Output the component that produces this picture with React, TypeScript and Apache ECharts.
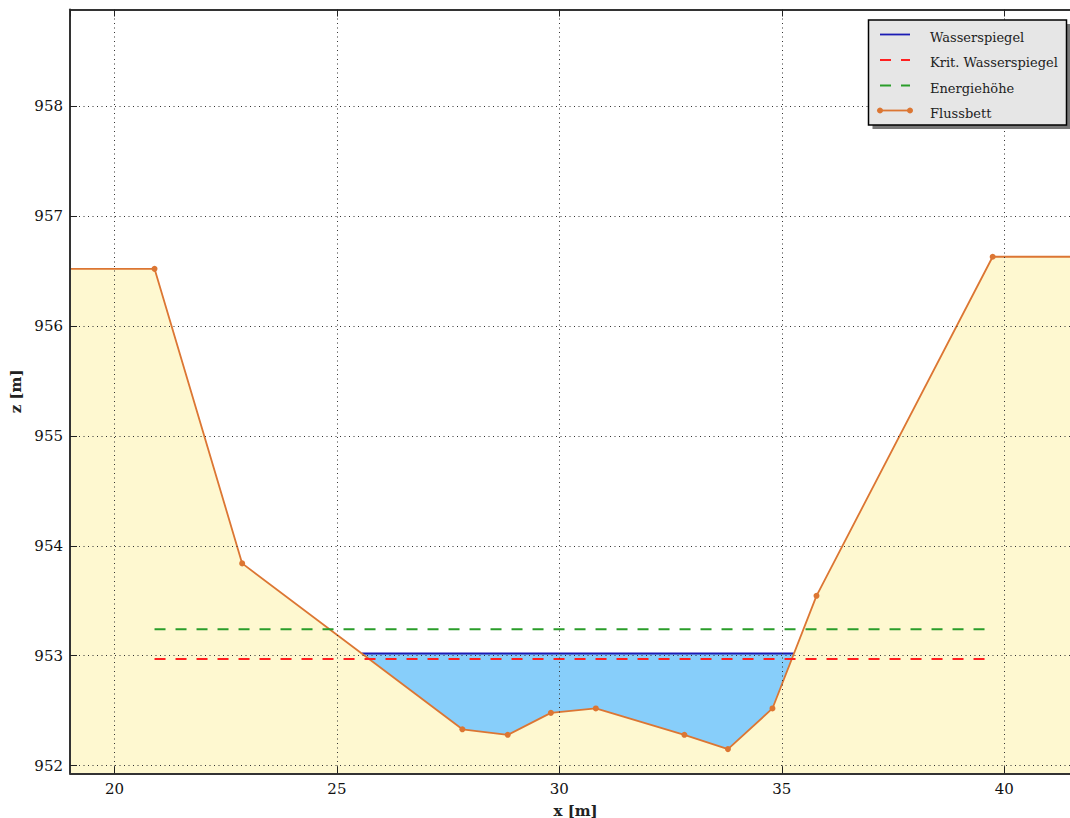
import React, { useEffect, useRef } from "react";
import * as echarts from "echarts";

// Flussbett (river bed) profile: x [m], z [m]
const bedX = [15, 20.9, 22.87, 27.82, 28.84, 29.81, 30.82, 32.81, 33.79, 34.79, 35.78, 39.74, 45];
const bedZ = [956.52, 956.52, 953.84, 952.33, 952.28, 952.48, 952.52, 952.28, 952.15, 952.52, 953.545, 956.63, 956.63];

// Wasserspiegel (water surface) endpoints
const waterX = [25.56, 35.27];
const waterZ = 953.02;

// Horizontal levels
const levelX = [20.9, 39.74];
const kritZ = 952.97;
const energyZ = 953.24;

const legendLabels = ["Wasserspiegel", "Krit. Wasserspiegel", "Energiehöhe", "Flussbett"];

const FONT = "DejaVu Serif";
const BED_COLOR = "#dc7633";

export default function App() {
  const ref = useRef<HTMLDivElement>(null);

  useEffect(() => {
    if (!ref.current) return;
    const chart = echarts.init(ref.current, undefined, { renderer: "svg" });

    const bedData = bedX.map((x, i) => [x, bedZ[i]]);
    const waterData = waterX.map((x) => [x, waterZ]);
    const kritData = levelX.map((x) => [x, kritZ]);
    const energyData = levelX.map((x) => [x, energyZ]);

    const axisLineStyle = { color: "#333", width: 2 };
    const gridLine = { show: true, lineStyle: { color: "#333", type: [1, 3.5] as any, width: 1 } };
    const labelStyle = { fontFamily: FONT, fontSize: 15, color: "#111" };

    const lx = 880, tx = 930;
    const rowsY = [34.5, 60, 85.5, 110.5];

    const legendElements: any[] = [
      { type: "rect", shape: { x: 872.5, y: 24, width: 200, height: 105 }, style: { fill: "#777" }, z: 100 },
      { type: "rect", shape: { x: 868.5, y: 20, width: 198, height: 105 }, style: { fill: "#e6e6e6", stroke: "#000", lineWidth: 1.5 }, z: 101 },
      { type: "line", shape: { x1: lx, y1: rowsY[0], x2: lx + 30, y2: rowsY[0] }, style: { stroke: "#1c1cb4", lineWidth: 1.8 }, z: 102 },
      { type: "line", shape: { x1: lx, y1: rowsY[1], x2: lx + 30, y2: rowsY[1] }, style: { stroke: "#ff2020", lineWidth: 2, lineDash: [11, 10] }, z: 102 },
      { type: "line", shape: { x1: lx, y1: rowsY[2], x2: lx + 30, y2: rowsY[2] }, style: { stroke: "#2a9d2a", lineWidth: 2, lineDash: [11, 10] }, z: 102 },
      { type: "line", shape: { x1: lx, y1: rowsY[3], x2: lx + 30, y2: rowsY[3] }, style: { stroke: BED_COLOR, lineWidth: 1.8 }, z: 102 },
      { type: "circle", shape: { cx: lx, cy: rowsY[3], r: 3 }, style: { fill: BED_COLOR }, z: 103 },
      { type: "circle", shape: { cx: lx + 30, cy: rowsY[3], r: 3 }, style: { fill: BED_COLOR }, z: 103 },
      ...legendLabels.map((t, i) => ({
        type: "text",
        x: tx,
        y: rowsY[i] + 2.5,
        style: { text: t, fill: "#222", font: `13px "${FONT}"`, textVerticalAlign: "middle", textAlign: "left" },
        z: 103,
      })),
    ];

    const nameStyle = { fontFamily: FONT, fontWeight: "bold", fontSize: 15, color: "#222" };

    chart.setOption({
      animation: false,
      grid: { left: 70, top: 9.5, width: 1023.2, height: 763.8, containLabel: false, outerBoundsMode: "none" },
      xAxis: [
        {
          type: "value",
          min: 19,
          max: 42,
          minInterval: 5,
          maxInterval: 5,
          z: 5,
          position: "bottom",
          name: "x [m]",
          nameLocation: "middle",
          nameGap: 30,
          nameTextStyle: { ...nameStyle, padding: [0, 12, 0, 0] },
          axisLine: { show: true, onZero: false, lineStyle: axisLineStyle },
          axisTick: { show: true, inside: true, length: 7, lineStyle: { color: "#222", width: 1 } },
          axisLabel: { ...labelStyle, margin: 8, showMinLabel: false, showMaxLabel: false },
          splitLine: gridLine,
        },
        {
          type: "value",
          min: 19,
          max: 42,
          minInterval: 5,
          maxInterval: 5,
          z: 5,
          position: "top",
          axisLine: { show: true, onZero: false, lineStyle: axisLineStyle },
          axisTick: { show: true, inside: true, length: 7, lineStyle: { color: "#222", width: 1 } },
          axisLabel: { show: false },
          splitLine: { show: false },
        },
      ],
      yAxis: {
        type: "value",
        min: 951.93,
        max: 958.88,
        minInterval: 1,
        maxInterval: 1,
        z: 5,
        name: "z [m]",
        nameLocation: "middle",
        nameGap: 42,
        nameTextStyle: nameStyle,
        axisLine: { show: true, onZero: false, lineStyle: axisLineStyle },
        axisTick: { show: true, inside: true, length: 7, lineStyle: { color: "#222", width: 1 } },
        axisLabel: { ...labelStyle, margin: 7, showMinLabel: false, showMaxLabel: false },
        splitLine: gridLine,
      },
      series: [
        {
          name: "Wasserspiegel",
          type: "line",
          data: waterData,
          z: 1,
          symbol: "none",
          lineStyle: { color: "#1c1cb4", width: 1.8 },
          areaStyle: { color: "#87cefa", opacity: 1, origin: "start" },
          clip: true,
        },
        {
          name: "Flussbett",
          type: "line",
          data: bedData,
          z: 2,
          symbol: "circle",
          symbolSize: 6,
          showSymbol: true,
          lineStyle: { color: BED_COLOR, width: 1.8 },
          itemStyle: { color: BED_COLOR },
          areaStyle: { color: "#fef8d0", opacity: 1, origin: "start" },
          clip: true,
        },
        {
          name: "Krit. Wasserspiegel",
          type: "line",
          data: kritData,
          z: 3,
          symbol: "none",
          lineStyle: { color: "#ff2020", width: 2, type: [11, 10] },
        },
        {
          name: "Energiehöhe",
          type: "line",
          data: energyData,
          z: 3,
          symbol: "none",
          lineStyle: { color: "#2a9d2a", width: 2, type: [11, 10] },
        },
      ],
      graphic: { elements: legendElements },
    });

    return () => chart.dispose();
  }, []);

  return (
    <div style={{ position: "fixed", left: 0, top: 0, width: 1070, height: 818, overflow: "hidden", background: "#fff" }}>
      <div ref={ref} style={{ width: 1100, height: 818 }} />
    </div>
  );
}
